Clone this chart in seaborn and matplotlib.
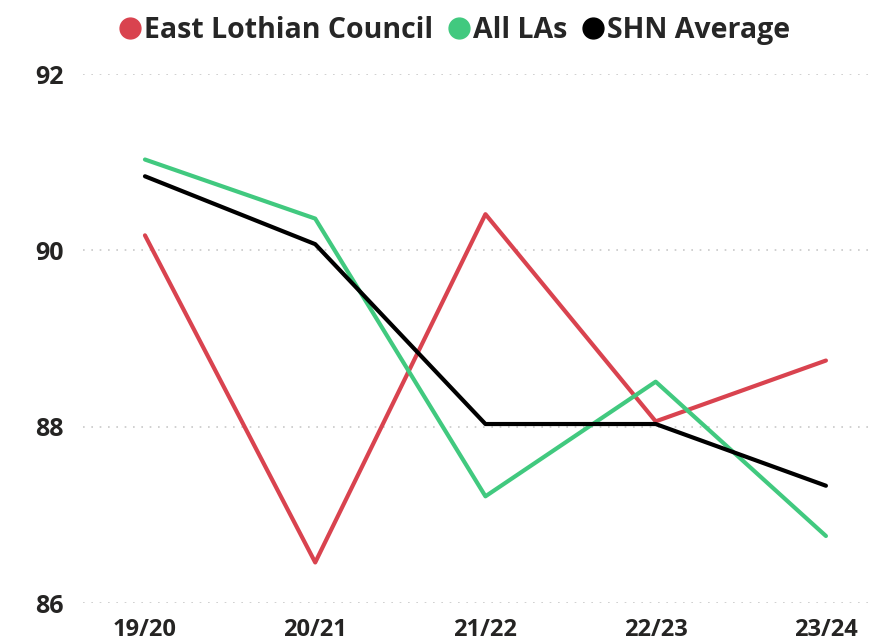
import matplotlib
matplotlib.use("Agg")
import matplotlib.pyplot as plt
from matplotlib.lines import Line2D
import seaborn as sns
import pandas as pd

years = ["19/20", "20/21", "21/22", "22/23", "23/24"]
east_lothian = [90.17, 86.46, 90.41, 88.06, 88.75]
all_las = [91.03, 90.36, 87.21, 88.51, 86.76]
shn_average = [90.84, 90.07, 88.03, 88.03, 87.33]
series_names = ["East Lothian Council", "All LAs", "SHN Average"]
colors = ["#D9434F", "#41C97F", "#000000"]
y_ticks = [86, 88, 90, 92]

sns.set_style("white")
plt.rcParams["font.family"] = ["Open Sans", "DejaVu Sans"]

rows = []
for name, vals in zip(series_names, [east_lothian, all_las, shn_average]):
    for y, v in zip(years, vals):
        rows.append({"Year": y, "Value": v, "Series": name})
df = pd.DataFrame(rows)

fig = plt.figure(figsize=(8.69, 6.44), dpi=100)
ax = fig.add_axes([83 / 869, 41 / 644, 786 / 869, 529 / 644])

sns.lineplot(data=df, x="Year", y="Value", hue="Series", hue_order=series_names,
             palette=colors, linewidth=3.0, sort=False, ax=ax, legend=False)

ax.set_xlim(-0.364, 4.253)
ax.set_ylim(86, 92)
ax.set_yticks(y_ticks)
ax.set_yticklabels([str(t) for t in y_ticks])
ax.set_xlabel("")
ax.set_ylabel("")
for s in ax.spines.values():
    s.set_visible(False)
ax.grid(axis="y", linestyle=(0, (1, 4)), color="#C8C8C8", linewidth=1.2)
ax.grid(axis="x", visible=False)
ax.set_axisbelow(True)
ax.tick_params(axis="x", length=0, labelsize=17, colors="#252423", pad=11)
ax.tick_params(axis="y", length=0, labelsize=18, colors="#252423", pad=14)
for lab in ax.get_xticklabels() + ax.get_yticklabels():
    lab.set_fontweight("bold")

handles = [Line2D([0], [0], marker="o", linestyle="", markersize=15,
                  markerfacecolor=c, markeredgecolor=c) for c in colors]
fig.legend(handles, series_names, loc="upper center", bbox_to_anchor=(453 / 869, 1.015),
           ncol=3, frameon=False, handletextpad=0.0,
           columnspacing=0.4, handlelength=1.0, prop={"weight": "bold", "size": 20.5})

fig.savefig("out.png", dpi=100, facecolor="white")
